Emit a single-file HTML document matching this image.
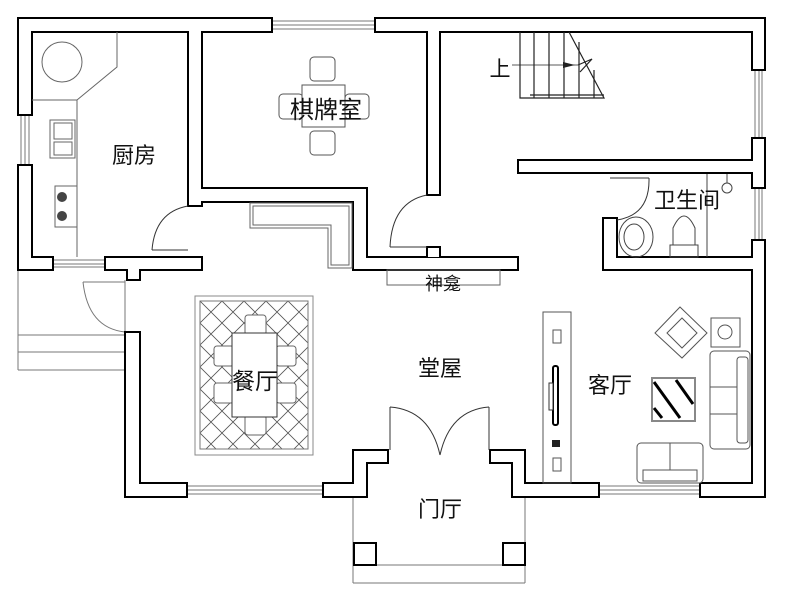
<!DOCTYPE html>
<html><head><meta charset="utf-8"><style>
html,body{margin:0;padding:0;background:#fff}
svg{display:block}
text{font-family:"Liberation Sans","Noto Sans CJK SC",sans-serif;fill:#111}
</style></head><body>
<svg width="789" height="598" viewBox="0 0 789 598" xmlns="http://www.w3.org/2000/svg">
<defs>
<pattern id="hatch" width="22" height="22" patternUnits="userSpaceOnUse" patternTransform="translate(200,301)">
<path d="M0,0 L22,22 M22,0 L0,22" stroke="#555" stroke-width="0.8"/>
</pattern>
</defs>

<g stroke="#777" stroke-width="1" fill="none">
<line x1="18" y1="270" x2="18" y2="370"/>
<line x1="18" y1="335" x2="125" y2="335"/>
<line x1="18" y1="352" x2="125" y2="352"/>
<line x1="18" y1="370" x2="125" y2="370"/>
<line x1="125" y1="280" x2="125" y2="332"/>
<path d="M83,282 Q88,328 125,332"/>
<line x1="83" y1="282" x2="125" y2="282"/>
<line x1="353" y1="497" x2="353" y2="583"/>
<line x1="525" y1="497" x2="525" y2="583"/>
<line x1="353" y1="565" x2="525" y2="565"/>
<line x1="353" y1="583" x2="525" y2="583"/>
<line x1="272" y1="21" x2="375" y2="21"/><line x1="272" y1="25" x2="375" y2="25"/><line x1="272" y1="29" x2="375" y2="29"/>
<line x1="21" y1="115" x2="21" y2="165"/><line x1="25" y1="115" x2="25" y2="165"/><line x1="29" y1="115" x2="29" y2="165"/>
<line x1="53" y1="260" x2="105" y2="260"/><line x1="53" y1="264" x2="105" y2="264"/><line x1="53" y1="267" x2="105" y2="267"/>
<line x1="755" y1="70" x2="755" y2="138"/><line x1="759" y1="70" x2="759" y2="138"/><line x1="762" y1="70" x2="762" y2="138"/>
<line x1="755" y1="188" x2="755" y2="240"/><line x1="759" y1="188" x2="759" y2="240"/><line x1="762" y1="188" x2="762" y2="240"/>
<line x1="187" y1="486" x2="323" y2="486"/><line x1="187" y1="490" x2="323" y2="490"/><line x1="187" y1="494" x2="323" y2="494"/>
<line x1="599" y1="486" x2="700" y2="486"/><line x1="599" y1="490" x2="700" y2="490"/><line x1="599" y1="494" x2="700" y2="494"/>
</g>

<g fill="#000">
<rect x="17" y="17" width="256" height="16"/>
<rect x="374" y="17" width="392" height="16"/>
<rect x="17" y="17" width="16" height="99"/>
<rect x="17" y="164" width="16" height="107"/>
<rect x="17" y="256" width="37" height="15"/>
<rect x="104" y="256" width="99" height="15"/>
<rect x="126" y="256" width="15" height="25"/>
<rect x="187" y="17" width="16" height="190"/>
<rect x="187" y="187" width="181" height="16"/>
<rect x="352" y="187" width="16" height="84"/>
<rect x="352" y="256" width="167" height="15"/>
<rect x="426" y="17" width="15" height="179"/>
<rect x="426" y="246" width="15" height="12"/>
<rect x="517" y="159" width="249" height="15"/>
<rect x="602" y="217" width="16" height="54"/>
<rect x="602" y="256" width="164" height="15"/>
<rect x="751" y="17" width="15" height="54"/>
<rect x="751" y="137" width="15" height="52"/>
<rect x="751" y="239" width="15" height="259"/>
<rect x="699" y="482" width="67" height="16"/>
<rect x="124" y="331" width="17" height="167"/>
<rect x="124" y="482" width="64" height="16"/>
<polygon points="489,449 526,449 526,482 600,482 600,498 511,498 511,464 489,464"/>
<polygon points="389,449 352,449 352,482 322,482 322,498 368,498 368,464 389,464"/>
</g>
<g fill="#fff">
<rect x="19" y="19" width="252" height="12"/>
<rect x="376" y="19" width="388" height="12"/>
<rect x="19" y="19" width="12" height="95"/>
<rect x="19" y="166" width="12" height="103"/>
<rect x="19" y="258" width="33" height="11"/>
<rect x="106" y="258" width="95" height="11"/>
<rect x="128" y="258" width="11" height="21"/>
<rect x="189" y="19" width="12" height="186"/>
<rect x="189" y="189" width="177" height="12"/>
<rect x="354" y="189" width="12" height="80"/>
<rect x="354" y="258" width="163" height="11"/>
<rect x="428" y="19" width="11" height="175"/>
<rect x="428" y="248" width="11" height="9"/>
<rect x="519" y="161" width="245" height="11"/>
<rect x="604" y="219" width="12" height="50"/>
<rect x="604" y="258" width="160" height="11"/>
<rect x="753" y="19" width="11" height="50"/>
<rect x="753" y="139" width="11" height="48"/>
<rect x="753" y="241" width="11" height="255"/>
<rect x="701" y="484" width="63" height="12"/>
<rect x="126" y="333" width="13" height="163"/>
<rect x="126" y="484" width="60" height="12"/>
<polygon points="491,451 524,451 524,484 598,484 598,496 513,496 513,462 491,462"/>
<polygon points="387,451 354,451 354,484 324,484 324,496 366,496 366,462 387,462"/>
</g>

<rect x="354" y="543" width="22" height="22" fill="#fff" stroke="#000" stroke-width="2"/>
<rect x="503" y="543" width="22" height="22" fill="#fff" stroke="#000" stroke-width="2"/>

<g stroke="#333" stroke-width="1" fill="none">
<path d="M188,206 Q155,212 152,250"/>
<line x1="152" y1="250" x2="188" y2="250"/>
<path d="M427,195 Q392,202 390,247"/>
<line x1="390" y1="247" x2="427" y2="247"/>
<path d="M649,178 Q650,215 617,220"/>
<line x1="610" y1="178" x2="649" y2="178"/>
<line x1="390" y1="407" x2="390" y2="450"/>
<line x1="489" y1="407" x2="489" y2="450"/>
<path d="M390,407 Q430,410 440,455"/>
<path d="M489,407 Q450,410 440,455"/>
</g>

<g stroke="#666" stroke-width="1" fill="none">
<line x1="32" y1="100" x2="77" y2="100"/>
<polyline points="77,100 117,67 117,32"/>
<line x1="77" y1="100" x2="77" y2="257"/>
<circle cx="62" cy="62" r="20"/>
<rect x="50" y="120" width="25" height="38"/>
<rect x="54" y="123" width="18" height="16"/>
<rect x="54" y="142" width="18" height="13"/>
<rect x="55" y="186" width="22" height="41"/>
</g>
<circle cx="62" cy="197" r="5" fill="#444"/>
<circle cx="62" cy="216" r="5" fill="#444"/>

<g stroke="#555" stroke-width="1" fill="#fff">
<rect x="310" y="57" width="25" height="24" rx="4"/>
<rect x="310" y="131" width="25" height="24" rx="4"/>
<rect x="279" y="94" width="24" height="25" rx="4"/>
<rect x="345" y="94" width="24" height="25" rx="4"/>
<rect x="302" y="85" width="43" height="42"/>
</g>
<text x="326" y="118" font-size="24" text-anchor="middle">棋牌室</text>
<text x="134" y="163" font-size="22" text-anchor="middle">厨房</text>

<g stroke="#666" stroke-width="1" fill="none">
<polygon points="250,203 352,203 352,268 328,268 328,228 250,228"/>
<polygon points="253,206 349,206 349,265 331,265 331,225 253,225"/>
<rect x="387" y="270" width="113" height="15"/>
</g>
<text x="443" y="290" font-size="18" text-anchor="middle">神龛</text>

<g stroke="#222" stroke-width="1.2" fill="none">
<polyline points="520,32 520,98 604,98 569,32"/>
<line x1="534" y1="32" x2="534" y2="98"/>
<line x1="549" y1="32" x2="549" y2="98"/>
<line x1="564" y1="32" x2="564" y2="98"/>
<line x1="579" y1="42" x2="579" y2="98"/>
<line x1="594" y1="70" x2="594" y2="98"/>
<line x1="530" y1="95" x2="604" y2="95"/>
<line x1="512" y1="65" x2="578" y2="65" stroke-width="0.8"/>
<polyline points="578,65 592,59 580,72"/>
</g>
<polygon points="563,62 575,65 563,68" fill="#222"/>
<text x="500" y="76" font-size="21" text-anchor="middle">上</text>

<g stroke="#444" stroke-width="1" fill="none">
<line x1="707" y1="174" x2="707" y2="257"/>
<circle cx="727" cy="188" r="5"/>
<line x1="727" y1="174" x2="727" y2="183"/>
<ellipse cx="636" cy="237" rx="17" ry="20"/>
<ellipse cx="634" cy="237" rx="10" ry="13"/>
<path d="M673,245 L673,228 Q684,204 695,228 L695,245 Z"/>
<rect x="670" y="245" width="28" height="12"/>
</g>
<text x="687" y="208" font-size="22" text-anchor="middle">卫生间</text>

<rect x="195" y="296" width="118" height="159" fill="#fff" stroke="#888"/>
<rect x="200" y="301" width="108" height="148" fill="url(#hatch)" stroke="#777"/>
<g stroke="#666" stroke-width="1" fill="#fff">
<rect x="245" y="315" width="21" height="20" rx="3"/>
<rect x="245" y="415" width="21" height="20" rx="3"/>
<rect x="214" y="346" width="20" height="20" rx="3"/>
<rect x="214" y="383" width="20" height="20" rx="3"/>
<rect x="276" y="346" width="20" height="20" rx="3"/>
<rect x="276" y="383" width="20" height="20" rx="3"/>
<rect x="232" y="333" width="45" height="84" stroke="#333"/>
</g>
<text x="255" y="389" font-size="23" text-anchor="middle">餐厅</text>
<text x="440" y="376" font-size="22" text-anchor="middle">堂屋</text>
<text x="440" y="517" font-size="22" text-anchor="middle">门厅</text>
<text x="610" y="393" font-size="22" text-anchor="middle">客厅</text>

<g stroke="#555" stroke-width="1" fill="none">
<rect x="543" y="312" width="28" height="171"/>
<rect x="553" y="330" width="8" height="13"/>
<rect x="553" y="458" width="8" height="13"/>
</g>
<rect x="553" y="366" width="5" height="59" rx="2" fill="#fff" stroke="#000" stroke-width="2"/>
<rect x="549" y="383" width="4" height="27" fill="#fff" stroke="#333"/>
<rect x="552" y="440" width="8" height="7" fill="#222"/>

<g stroke="#555" stroke-width="1" fill="#fff">
<polygon points="680,307 707,333 682,358 655,333"/>
<polygon points="682,318 697,333 682,348 667,333"/>
<rect x="711" y="318" width="29" height="29"/>
<circle cx="725" cy="332" r="7" fill="none"/>
<rect x="710" y="351" width="40" height="98" rx="4"/>
<rect x="737" y="357" width="11" height="86" rx="3"/>
<line x1="710" y1="387" x2="737" y2="387"/>
<line x1="710" y1="414" x2="737" y2="414"/>
<rect x="637" y="443" width="66" height="40" rx="4"/>
<rect x="643" y="470" width="54" height="11"/>
<line x1="670" y1="443" x2="670" y2="470"/>
<rect x="652" y="378" width="43" height="43" fill="#fff" stroke="#888" stroke-width="2"/>
</g>
<g stroke="#000" stroke-width="3">
<line x1="654" y1="382" x2="680" y2="418"/>
<line x1="676" y1="380" x2="693" y2="404"/>
<line x1="654" y1="408" x2="662" y2="418"/>
</g>
</svg>
</body></html>
